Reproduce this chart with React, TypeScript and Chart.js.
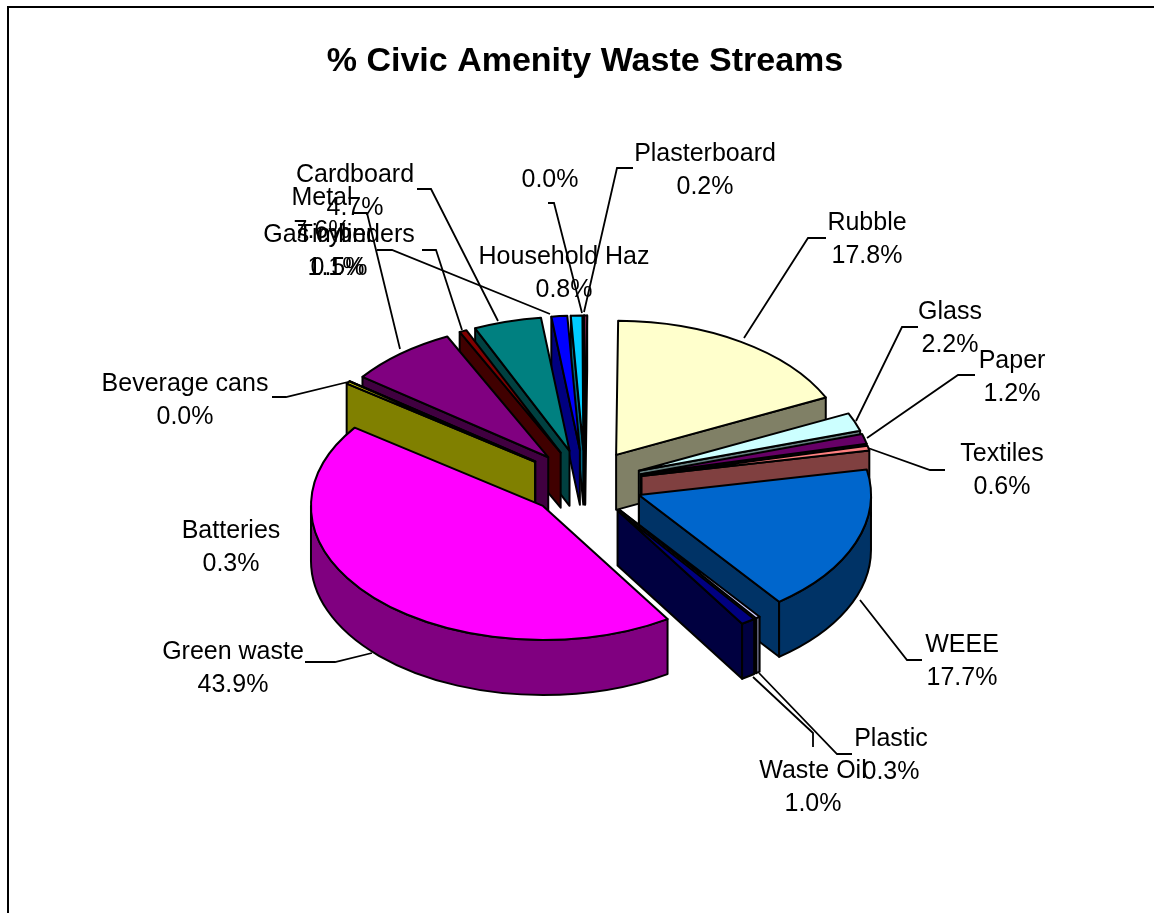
import React, { useEffect, useRef } from "react";
import { Chart, registerables } from "chart.js";

Chart.register(...registerables);

// Waste streams, clockwise from twelve o'clock
const categories = [
  "Rubble", "Glass", "Paper", "Textiles", "WEEE", "Plastic", "Waste Oil", "Green waste",
  "Batteries", "Beverage cans", "Metal", "Gas cylinders", "Cardboard", "Timber",
  "Household Haz", "", "Plasterboard",
];
const shares = [17.8, 2.2, 1.2, 0.6, 17.7, 0.3, 1.0, 43.9, 0.3, 0.0, 7.6, 0.5, 4.7, 1.1, 0.8, 0.0, 0.2];

const topColors = [
  "#FFFFCC", "#CCFFFF", "#660066", "#FF8080", "#0066CC", "#CCCCFF", "#000080", "#FF00FF",
  "#FFFF00", "#00FFFF", "#800080", "#800000", "#008080", "#0000FF", "#00CCFF", "#CCFFCC", "#993366",
];
const sideColors = [
  "#808066", "#668080", "#330033", "#804040", "#003366", "#666680", "#000040", "#800080",
  "#808000", "#008080", "#400040", "#400000", "#004040", "#000080", "#006680", "#668066", "#4D1A33",
];

// How far each wedge is pulled out of the pie
const explosions = [
  57.8, 57.8, 57.8, 57.8, 57.8, 57.8, 57.8, 57.8, 62, 62, 57.8, 57.8, 57.8, 57.8, 57.8, 57.8, 57.8,
];

// Centre of each two-line label
const labelCentres: [number, number][] = [
  [867, 223], [950, 312], [1012, 361], [1002, 454], [962, 645], [891, 739], [813, 771], [233, 652],
  [231, 531], [185, 384], [322, 198], [339, 235], [355, 175], [336, 235], [564, 257], [550, 147], [705, 154],
];

// Leader lines from label to slice
const leaderLines: ([number, number][] | null)[] = [
  [[826, 238], [808, 238], [744, 338]],
  [[918, 327], [902, 327], [856, 421]],
  [[975, 375], [958, 375], [867, 438]],
  [[945, 470], [930, 470], [868, 448]],
  [[922, 660], [907, 660], [860, 600]],
  [[852, 754], [837, 754], [759, 673]],
  [[813, 747], [813, 733], [753, 677]],
  [[305, 662], [335, 662], [372, 653]],
  null,
  [[272, 397], [286, 397], [348, 382]],
  [[353, 213], [367, 213], [400, 349]],
  [[422, 250], [436, 250], [462, 330]],
  [[417, 189], [431, 189], [498, 321]],
  [[377, 250], [392, 250], [550, 314]],
  null,
  [[548, 203], [554, 203], [582, 313]],
  [[633, 168], [617, 168], [584, 312]],
];

const TILT = 0.578;
const DEPTH = 55;
const RADIUS = 232;
const EDGE = 2;
const LABEL_FONT = '25px "Liberation Sans", Arial, sans-serif';
const LINE_GAP = 33;

const areaCentre = (chart: any) => ({
  cx: (chart.chartArea.left + chart.chartArea.right) / 2,
  cy: (chart.chartArea.top + chart.chartArea.bottom) / 2,
});

// Pulls every wedge away from the centre, tilts the pie and gives it a thickness.
const tiltedPie = {
  id: "tiltedPie",
  afterDatasetsUpdate(chart: any) {
    const { cx, cy } = areaCentre(chart);
    chart.getDatasetMeta(0).data.forEach((arc: any, i: number) => {
      const mid = (arc.startAngle + arc.endAngle) / 2;
      arc.x = cx + explosions[i] * Math.cos(mid);
      arc.y = cy + explosions[i] * Math.sin(mid);
    });
  },
  beforeDatasetsDraw(chart: any) {
    const { ctx } = chart;
    const { cy } = areaCentre(chart);
    const arcs = chart.getDatasetMeta(0).data.map((arc: any, i: number) => ({ arc, i }));
    const key = (a: any) => {
      const mid = (a.startAngle + a.endAngle) / 2;
      return a.y + (RADIUS / 2) * Math.sin(mid);
    };
    arcs.sort((p: any, q: any) => key(p.arc) - key(q.arc));
    ctx.save();
    ctx.lineWidth = EDGE;
    ctx.strokeStyle = "#000";
    ctx.lineJoin = "round";
    for (const { arc, i } of arcs) {
      const sy = cy + TILT * (arc.y - cy);
      ctx.fillStyle = sideColors[i];
      const wall = (a: number) => {
        const rx = arc.x + RADIUS * Math.cos(a);
        const ry = sy + RADIUS * TILT * Math.sin(a);
        ctx.beginPath();
        ctx.moveTo(arc.x, sy);
        ctx.lineTo(rx, ry);
        ctx.lineTo(rx, ry + DEPTH);
        ctx.lineTo(arc.x, sy + DEPTH);
        ctx.closePath();
        ctx.fill();
        ctx.stroke();
      };
      if (Math.cos(arc.startAngle) < 0) wall(arc.startAngle);
      if (Math.cos(arc.endAngle) > 0) wall(arc.endAngle);
      // Curved outer face, only the part turned towards the viewer
      const ranges: [number, number][] = [
        [arc.startAngle, arc.endAngle],
        [arc.startAngle - 2 * Math.PI, arc.endAngle - 2 * Math.PI],
      ];
      for (const [s, e] of ranges) {
        const from = Math.max(s, 0);
        const to = Math.min(e, Math.PI);
        if (to <= from) continue;
        ctx.beginPath();
        ctx.ellipse(arc.x, sy, RADIUS, RADIUS * TILT, 0, from, to);
        ctx.ellipse(arc.x, sy + DEPTH, RADIUS, RADIUS * TILT, 0, to, from, true);
        ctx.closePath();
        ctx.fill();
        ctx.stroke();
      }
    }
    ctx.restore();
  },
  beforeDatasetDraw(chart: any) {
    const { ctx } = chart;
    const { cy } = areaCentre(chart);
    ctx.save();
    ctx.translate(0, cy);
    ctx.scale(1, TILT);
    ctx.translate(0, -cy);
  },
  afterDatasetDraw(chart: any) {
    chart.ctx.restore();
  },
  afterDatasetsDraw(chart: any) {
    const { ctx } = chart;
    const { cy } = areaCentre(chart);
    ctx.save();
    ctx.lineWidth = EDGE;
    ctx.strokeStyle = "#000";
    ctx.lineJoin = "round";
    for (const arc of chart.getDatasetMeta(0).data) {
      const sy = cy + TILT * (arc.y - cy);
      ctx.beginPath();
      ctx.moveTo(arc.x, sy);
      ctx.ellipse(arc.x, sy, RADIUS, RADIUS * TILT, 0, arc.startAngle, arc.endAngle);
      ctx.closePath();
      ctx.stroke();
    }
    ctx.restore();
  },
};

// Frame along the top and left edges, leader lines and slice labels.
const annotations = {
  id: "annotations",
  beforeDraw(chart: any) {
    const { ctx, width, height } = chart;
    ctx.save();
    ctx.fillStyle = "#000";
    ctx.fillRect(7, 6, width - 7, 2);
    ctx.fillRect(7, 6, 2, height - 6);
    ctx.restore();
  },
  afterDraw(chart: any) {
    const { ctx } = chart;
    ctx.save();
    ctx.strokeStyle = "#000";
    ctx.lineWidth = 1.8;
    for (const line of leaderLines) {
      if (!line) continue;
      ctx.beginPath();
      line.forEach(([x, y], n) => (n ? ctx.lineTo(x, y) : ctx.moveTo(x, y)));
      ctx.stroke();
    }
    ctx.fillStyle = "#000";
    ctx.font = LABEL_FONT;
    ctx.textAlign = "center";
    ctx.textBaseline = "middle";
    categories.forEach((name, i) => {
      const [x, y] = labelCentres[i];
      if (name) ctx.fillText(name, x, y);
      ctx.fillText(`${shares[i].toFixed(1)}%`, x, y + LINE_GAP);
    });
    ctx.restore();
  },
};

export default function App() {
  const canvasRef = useRef<HTMLCanvasElement>(null);

  useEffect(() => {
    const chart = new Chart(canvasRef.current as HTMLCanvasElement, {
      type: "pie",
      data: {
        labels: categories,
        datasets: [
          {
            data: shares,
            backgroundColor: topColors,
            borderWidth: 0,
            clip: false,
          } as any,
        ],
      },
      options: {
        responsive: false,
        animation: false,
        events: [],
        rotation: 0.5,
        radius: RADIUS,
        layout: { padding: { left: 16, right: 0, top: 0, bottom: 29.4 } },
        plugins: {
          legend: { display: false },
          tooltip: { enabled: false },
          title: {
            display: true,
            text: "% Civic Amenity Waste Streams",
            color: "#000",
            font: { family: '"Liberation Sans", Arial, sans-serif', size: 34, weight: "bold", lineHeight: 1.2 },
            padding: { top: 41.6, bottom: 0 },
          },
        },
      } as any,
      plugins: [tiltedPie, annotations],
    });
    return () => chart.destroy();
  }, []);

  return (
    <canvas
      ref={canvasRef}
      width={1154}
      height={913}
      style={{ position: "absolute", left: 0, top: 0, display: "block" }}
    />
  );
}
